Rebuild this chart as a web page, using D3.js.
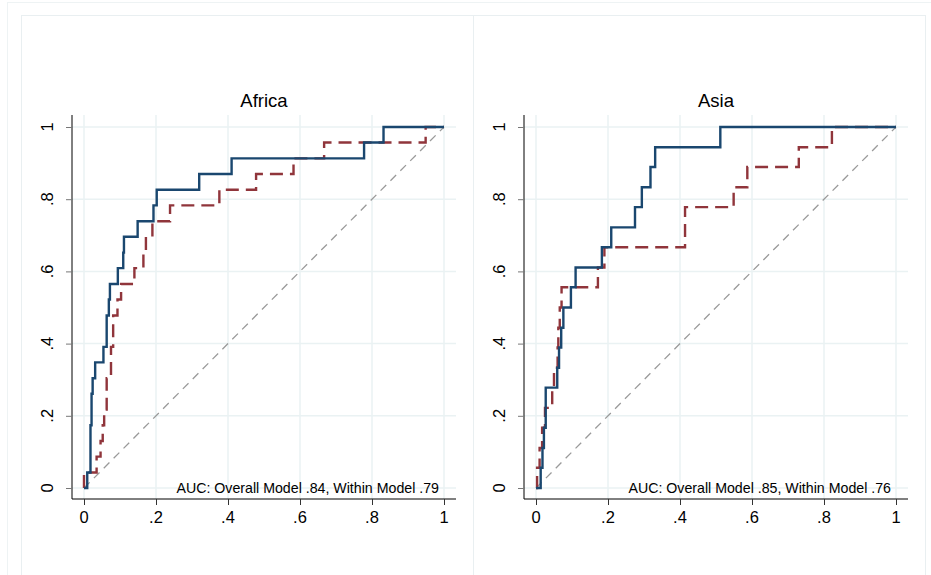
<!DOCTYPE html>
<html>
<head>
<meta charset="utf-8">
<script src="https://cdn.jsdelivr.net/npm/d3@7"></script>
<style>
    body { margin: 0; background: #fff; }
    svg { display: block; font-family: "Liberation Sans", Arial, Helvetica, sans-serif; }
</style>
</head>
<body>
<div id="chart"></div>
<script>

// axis ticks, shared by both panels
let tickValues = [0, 0.2, 0.4, 0.6, 0.8, 1];

// Africa - overall model (step corners: false positive rate, sensitivity)
let africaOverallFpr = [0, 0.009, 0.018, 0.021, 0.024, 0.031, 0.054, 0.063, 0.069, 0.072, 0.094, 0.109, 0.111, 0.149, 0.193, 0.202, 0.32, 0.41, 0.778, 0.832, 1];
let africaOverallTpr = [0, 0.043, 0.174, 0.261, 0.304, 0.348, 0.391, 0.478, 0.522, 0.565, 0.609, 0.652, 0.696, 0.739, 0.783, 0.826, 0.87, 0.913, 0.957, 1, 1];

// Africa - within model
let africaWithinFpr = [0, 0, 0.035, 0.046, 0.052, 0.056, 0.063, 0.075, 0.081, 0.093, 0.103, 0.14, 0.165, 0.172, 0.19, 0.239, 0.376, 0.478, 0.582, 0.667, 0.949, 1];
let africaWithinTpr = [0, 0.043, 0.087, 0.13, 0.174, 0.217, 0.304, 0.391, 0.478, 0.522, 0.565, 0.609, 0.652, 0.696, 0.739, 0.783, 0.826, 0.87, 0.913, 0.957, 1, 1];

// Asia - overall model
let asiaOverallFpr = [0, 0.013, 0.018, 0.022, 0.027, 0.059, 0.064, 0.07, 0.076, 0.097, 0.11, 0.183, 0.209, 0.275, 0.294, 0.318, 0.331, 0.512, 1];
let asiaOverallTpr = [0, 0.056, 0.111, 0.167, 0.278, 0.333, 0.389, 0.444, 0.5, 0.556, 0.611, 0.667, 0.722, 0.778, 0.833, 0.889, 0.944, 1, 1];

// Asia - within model
let asiaWithinFpr = [0, 0.003, 0.01, 0.017, 0.025, 0.045, 0.05, 0.06, 0.062, 0.066, 0.071, 0.172, 0.19, 0.414, 0.549, 0.587, 0.73, 0.822, 1];
let asiaWithinTpr = [0, 0.056, 0.111, 0.167, 0.222, 0.278, 0.333, 0.389, 0.444, 0.5, 0.556, 0.611, 0.667, 0.778, 0.833, 0.889, 0.944, 1, 1];

let panelTitles = ["Africa", "Asia"];
let aucLabels = [
    "AUC: Overall Model .84, Within Model .79",
    "AUC: Overall Model .85, Within Model .76"
];

let width = 931, height = 575;

let svg = d3.select("#chart").append("svg")
    .attr("width", width)
    .attr("height", height);

svg.append("rect")
    .attr("width", width)
    .attr("height", height)
    .attr("fill", "#fff");

// outer graph frame + the two sub-graph frames
svg.append("rect")
    .attr("x", 7.5).attr("y", 2.5)
    .attr("width", 940).attr("height", 600)
    .attr("fill", "none").attr("stroke", "#eef3f4");

[21.5, 473.5].forEach(x => {
    svg.append("rect")
        .attr("x", x).attr("y", 15.5)
        .attr("width", 452).attr("height", 600)
        .attr("fill", "none").attr("stroke", "#e9eff1");
});

let fmt = v => v === 0 ? "0" : v === 1 ? "1" : d3.format(".1f")(v).replace("0.", ".");

function drawPanel(left, title, auc, overall, within) {
    // plot region is 384 x 384, data inset 12px inside it
    let region = {x0: left, x1: left + 384, y0: 115, y1: 499};

    let x = d3.scaleLinear()
        .domain([0, 1])
        .range([region.x0 + 12, region.x1 - 12]);
    let y = d3.scaleLinear()
        .domain([0, 1])
        .range([region.y1 - 11, region.y0 + 12]);

    let g = svg.append("g");

    // grid
    g.selectAll(".hgrid").data(tickValues).enter().append("line")
        .attr("x1", region.x0).attr("x2", region.x1)
        .attr("y1", d => y(d)).attr("y2", d => y(d))
        .attr("stroke", "#eaf2f3").attr("stroke-width", 1.5);
    g.selectAll(".vgrid").data(tickValues).enter().append("line")
        .attr("x1", d => x(d)).attr("x2", d => x(d))
        .attr("y1", region.y0).attr("y2", region.y1)
        .attr("stroke", "#eaf2f3").attr("stroke-width", 1.5);

    // reference diagonal
    g.append("line")
        .attr("x1", x(0)).attr("y1", y(0))
        .attr("x2", x(1)).attr("y2", y(1))
        .attr("stroke", "#9a9a9a")
        .attr("stroke-width", 1.3)
        .attr("stroke-dasharray", "8,6");

    let line = d3.line()
        .x(d => x(d[0]))
        .y(d => y(d[1]))
        .curve(d3.curveStepAfter);

    // within model (dashed maroon)
    g.append("path")
        .datum(d3.zip(within[0], within[1]))
        .attr("d", line)
        .attr("fill", "none")
        .attr("stroke", "#90353b")
        .attr("stroke-width", 2.4)
        .attr("stroke-dasharray", "13,7");

    // overall model (solid navy)
    g.append("path")
        .datum(d3.zip(overall[0], overall[1]))
        .attr("d", line)
        .attr("fill", "none")
        .attr("stroke", "#1a476f")
        .attr("stroke-width", 2.4);

    // axes
    let xAxis = d3.axisBottom(x).tickValues(tickValues).tickSize(6).tickFormat("");
    let yAxis = d3.axisLeft(y).tickValues(tickValues).tickSize(6).tickFormat("");

    let gx = g.append("g")
        .attr("transform", `translate(0,${region.y1})`)
        .call(xAxis);
    gx.select(".domain").attr("d", `M${region.x0},0H${region.x1}`).attr("stroke", "#000");
    gx.selectAll(".tick line").attr("stroke", "#333");

    let gy = g.append("g")
        .attr("transform", `translate(${region.x0},0)`)
        .call(yAxis);
    gy.select(".domain").attr("d", `M0,${region.y0}V${region.y1}`).attr("stroke", "#000");
    gy.selectAll(".tick line").attr("stroke", "#777");

    // tick labels
    g.selectAll(".xlab").data(tickValues).enter().append("text")
        .attr("x", d => x(d))
        .attr("y", region.y1 + 24)
        .attr("text-anchor", "middle")
        .attr("font-size", 16.5)
        .attr("fill", "#000")
        .text(fmt);

    g.selectAll(".ylab").data(tickValues).enter().append("text")
        .attr("transform", d => `translate(${region.x0 - 19},${y(d)}) rotate(-90)`)
        .attr("text-anchor", "middle")
        .attr("font-size", 16.5)
        .attr("fill", "#000")
        .text(fmt);

    // title
    g.append("text")
        .attr("x", (region.x0 + region.x1) / 2)
        .attr("y", 107)
        .attr("text-anchor", "middle")
        .attr("font-size", 18.5)
        .attr("fill", "#000")
        .text(title);

    // AUC note
    g.append("text")
        .attr("x", x(1) - 5)
        .attr("y", y(0) + 5)
        .attr("text-anchor", "end")
        .attr("font-size", 14.2)
        .attr("fill", "#000")
        .text(auc);
}

drawPanel(72, panelTitles[0], aucLabels[0],
    [africaOverallFpr, africaOverallTpr], [africaWithinFpr, africaWithinTpr]);
drawPanel(524, panelTitles[1], aucLabels[1],
    [asiaOverallFpr, asiaOverallTpr], [asiaWithinFpr, asiaWithinTpr]);

</script>
</body>
</html>
